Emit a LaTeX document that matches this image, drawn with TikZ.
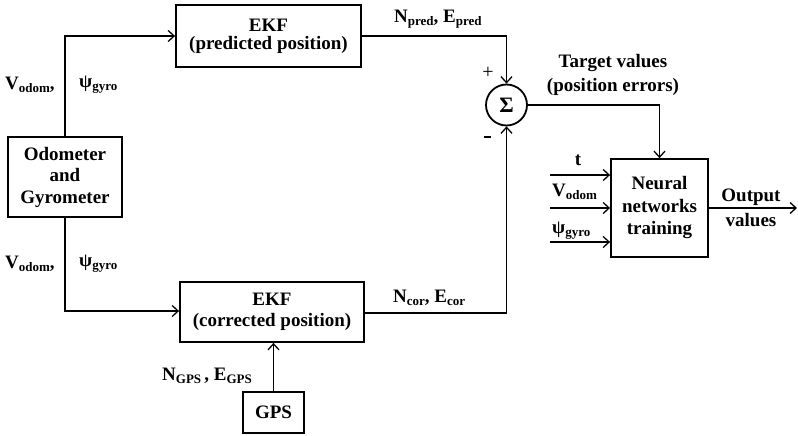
\documentclass[tikz,border=0pt]{standalone}
\usepackage{fontspec}
\setmainfont{Liberation Serif}
\usetikzlibrary{arrows.meta}
\newcommand{\lsub}[1]{\raisebox{-0.3ex}{\fontsize{13}{13}\selectfont #1}}
\begin{document}
\begin{tikzpicture}[x=1pt,y=-1pt,
  font=\fontsize{19}{20}\selectfont\bfseries,
  blk/.style={draw,line width=1.8pt,inner sep=0pt,align=center},
  conn/.style={line width=1.3pt},
  arr/.style={conn,-{Straight Barb[length=6pt,width=11pt,line width=1.3pt]}},
  lbl/.style={inner sep=0pt,align=center}]
\useasboundingbox (0,0) rectangle (798,436);
% blocks
\node[blk,minimum width=185pt,minimum height=62pt] (ekfp) at (268.5,36) {EKF\\[-2pt](predicted position)};
\node[blk,minimum width=114pt,minimum height=80pt] (odo) at (65,177) {Odometer\\[1.5pt]and\\[1.5pt]Gyrometer};
\node[blk,minimum width=184pt,minimum height=60pt] (ekfc) at (272,312) {EKF\\[1pt](corrected position)};
\node[blk,minimum width=61pt,minimum height=41pt] (gps) at (273.5,412.5) {GPS};
\node[draw,circle,line width=1.8pt,minimum size=41pt,inner sep=0pt] (sig) at (506.5,105) {\fontsize{22}{22}\selectfont Σ};
\node[blk,minimum width=97pt,minimum height=98pt] (nn) at (659.5,208) {Neural\\[2.5pt]networks\\[2.5pt]training};
% coordinates
\coordinate (in1) at (550,175);
\coordinate (in2) at (550,208);
\coordinate (in3) at (550,242);
\coordinate (out) at (797,208);
% connectors
\draw[arr] (odo.north) |- (ekfp.west);
\draw[arr] (odo.south) |- ([yshift=1pt]ekfc.west);
\draw[arr] (ekfp.east) -| (sig.north);
\draw[arr] ([yshift=-1pt]ekfc.east) -| (sig.south);
\draw[arr] (sig.east) -| (nn.north);
\draw[arr] (gps.north) -- (gps.north |- ekfc.south);
\draw[arr] (in1) -- (nn.west |- in1);
\draw[arr] (in2) -- (nn.west |- in2);
\draw[arr] (in3) -- (nn.west |- in3);
\draw[arr] (nn.east) -- (out);
% labels
\node[lbl,anchor=west] (l1) at (5,85) {V\lsub{odom},};
\node[lbl,anchor=west] (l2) at (79,85) {ψ\lsub{gyro}};
\node[lbl,anchor=west] (l3) at (5,264) {V\lsub{odom},};
\node[lbl,anchor=west] (l4) at (79,264) {ψ\lsub{gyro}};
\node[lbl,anchor=west] (l5) at (394,19) {N\lsub{pred}, E\lsub{pred}};
\node[lbl,anchor=west] (l6) at (393,298) {N\lsub{cor}, E\lsub{cor}};
\node[lbl,anchor=west] (l7) at (162,376) {N\lsub{GPS}\,, E\lsub{GPS}};
\node[lbl] (pl) at (488,73) {\fontsize{20}{20}\selectfont\mdseries +};
\node[lbl] (mi) at (487,137) {\rule{7pt}{2.6pt}};
\node[lbl] (tv) at (613,75) {Target values\\[4pt](position errors)};
\node[lbl] (lt) at (578,160) {t};
\node[lbl,anchor=west] (lv) at (552,192) {V\lsub{odom}};
\node[lbl,anchor=west] (lp) at (552,231) {ψ\lsub{gyro}};
\node[lbl] (ov) at (751,208) {Output\\[5pt]values};
\end{tikzpicture}
\end{document}
